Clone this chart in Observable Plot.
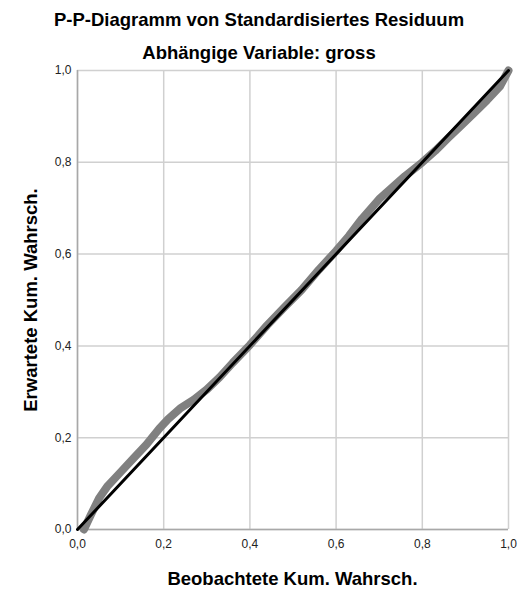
<!DOCTYPE html>
<html>
<head>
<meta charset="utf-8">
<script src="https://cdn.jsdelivr.net/npm/d3@7"></script>
<script src="https://cdn.jsdelivr.net/npm/@observablehq/plot@0.6"></script>
<style>
  html, body { margin: 0; padding: 0; background: #fff; }
  #wrap { position: relative; width: 518px; height: 590px; overflow: hidden; font-family: "Liberation Sans", Arial, sans-serif; }
  .t { position: absolute; font-weight: bold; color: #000; white-space: nowrap; line-height: 1; }
  #title { top: 11px; left: 0; width: 518px; text-align: center; font-size: 18.5px; }
  #subtitle { top: 44px; left: 0; width: 518px; text-align: center; font-size: 18.5px; }
  #xlabel { top: 570px; left: 77px; width: 431px; text-align: center; font-size: 18.5px; }
  #ylabel { left: 31px; top: 300px; font-size: 18.5px; transform: translate(-50%, -50%) rotate(-90deg); }
  #chart { position: absolute; left: 0; top: 0; }
</style>
</head>
<body>
<div id="wrap">
  <div id="chart"></div>
  <div id="title" class="t">P-P-Diagramm von Standardisiertes Residuum</div>
  <div id="subtitle" class="t">Abhängige Variable: gross</div>
  <div id="xlabel" class="t">Beobachtete Kum. Wahrsch.</div>
  <div id="ylabel" class="t">Erwartete Kum. Wahrsch.</div>
</div>
<script>
// Observed cumulative probability (x) vs expected cumulative probability (y)
const observed = [0.015, 0.03, 0.05, 0.07, 0.10, 0.13, 0.16, 0.19, 0.21, 0.24, 0.27, 0.30, 0.33, 0.36, 0.40, 0.44, 0.48, 0.52, 0.56, 0.60, 0.63, 0.66, 0.70, 0.73, 0.76, 0.80, 0.83, 0.86, 0.89, 0.92, 0.95, 0.98, 1.00];
const expected = [0.000, 0.03, 0.068, 0.095, 0.125, 0.155, 0.185, 0.22, 0.24, 0.265, 0.283, 0.305, 0.332, 0.363, 0.402, 0.445, 0.484, 0.522, 0.566, 0.607, 0.64, 0.677, 0.72, 0.745, 0.77, 0.80, 0.825, 0.853, 0.88, 0.907, 0.935, 0.965, 1.00];
const diagonal = [0, 1];
const ticks = [0, 0.2, 0.4, 0.6, 0.8, 1.0];

const points = observed.map((x, i) => ({x, y: expected[i]}));
const fmt = d => d.toFixed(1).replace(".", ",");

const chart = Plot.plot({
  width: 518,
  height: 590,
  marginLeft: 77,
  marginRight: 10,
  marginTop: 70,
  marginBottom: 61,
  style: { fontFamily: "'Liberation Sans', Arial, sans-serif", fontSize: "12px", color: "#222", background: "#fff" },
  x: { domain: [0, 1], ticks: ticks, tickFormat: fmt, label: null, tickSize: 0, tickPadding: 10 },
  y: { domain: [0, 1], ticks: ticks, tickFormat: fmt, label: null, tickSize: 0, tickPadding: 6 },
  marks: [
    Plot.ruleX(ticks, { stroke: "#d0d0d0", strokeWidth: 1.5 }),
    Plot.ruleY(ticks, { stroke: "#d0d0d0", strokeWidth: 1.5 }),
    Plot.ruleX([0], { stroke: "#a8a8a8", strokeWidth: 1.5 }),
    Plot.ruleY([0], { stroke: "#a8a8a8", strokeWidth: 1.5 }),
    Plot.line(points, { x: "x", y: "y", stroke: "#808080", strokeWidth: 8, strokeLinecap: "round", strokeLinejoin: "round" }),
    Plot.line(diagonal, { x: d => d, y: d => d, stroke: "#000", strokeWidth: 3 }),
    Plot.axisX({ ticks: ticks, tickFormat: fmt, tickSize: 0, tickPadding: 10, label: null }),
    Plot.axisY({ ticks: ticks, tickFormat: fmt, tickSize: 0, tickPadding: 6, label: null })
  ]
});
document.getElementById("chart").appendChild(chart);
</script>
</body>
</html>
